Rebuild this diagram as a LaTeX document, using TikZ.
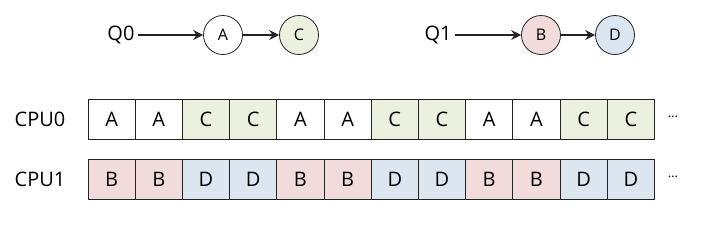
\documentclass[tikz,border=0pt]{standalone}
\usepackage{fontspec}
\setmainfont{Open Sans}
\usetikzlibrary{arrows.meta}
\definecolor{fillC}{HTML}{EBF1DE}
\definecolor{fillB}{HTML}{F2DCDB}
\definecolor{fillD}{HTML}{DCE6F1}
\definecolor{lineK}{HTML}{222222}
\begin{document}
\begin{tikzpicture}[
  x=1pt, y=-1pt,
  font=\fontsize{20}{24}\selectfont,
  job/.style={circle, draw=lineK, line width=0.8pt, minimum size=39pt, inner sep=0pt, font=\fontsize{16}{18}\selectfont},
  slot/.style={rectangle, draw=lineK, line width=0.8pt, minimum width=47.2pt, minimum height=40pt, inner sep=0pt},
  qarrow/.style={-{Stealth[length=10pt,width=10pt,inset=3.5pt]}, line width=1.1pt, lineK}
]
\useasboundingbox (0,0) rectangle (701,226);
% queues
\node (q0) at (121,35) {Q0};
\node[job] (a) at (223,35) {A};
\node[job, fill=fillC] (c) at (299,35) {C};
\draw[qarrow] (q0) -- (a);
\draw[qarrow] (a) -- (c);
\node (q1) at (438,35) {Q1};
\node[job, fill=fillB] (b) at (541,35) {B};
\node[job, fill=fillD] (d) at (615,35) {D};
\draw[qarrow] (q1) -- (b);
\draw[qarrow] (b) -- (d);

% CPU rows
\node (cpu0) at (40,119) {CPU0};
\node (cpu1) at (40,179) {CPU1};
\foreach \k/\t/\f in {0/A/white,1/A/white,2/C/fillC,3/C/fillC,4/A/white,5/A/white,
                      6/C/fillC,7/C/fillC,8/A/white,9/A/white,10/C/fillC,11/C/fillC}
  \node[slot, fill=\f] (s0-\k) at ({111.6+47.2*\k},119) {\t};
\foreach \k/\t/\f in {0/B/fillB,1/B/fillB,2/D/fillD,3/D/fillD,4/B/fillB,5/B/fillB,
                      6/D/fillD,7/D/fillD,8/B/fillB,9/B/fillB,10/D/fillD,11/D/fillD}
  \node[slot, fill=\f] (s1-\k) at ({111.6+47.2*\k},179) {\t};
\node[font=\fontsize{13}{15}\selectfont] (more0) at (673,117) {\dots};
\node[font=\fontsize{13}{15}\selectfont] (more1) at (673,177) {\dots};
\end{tikzpicture}
\end{document}
